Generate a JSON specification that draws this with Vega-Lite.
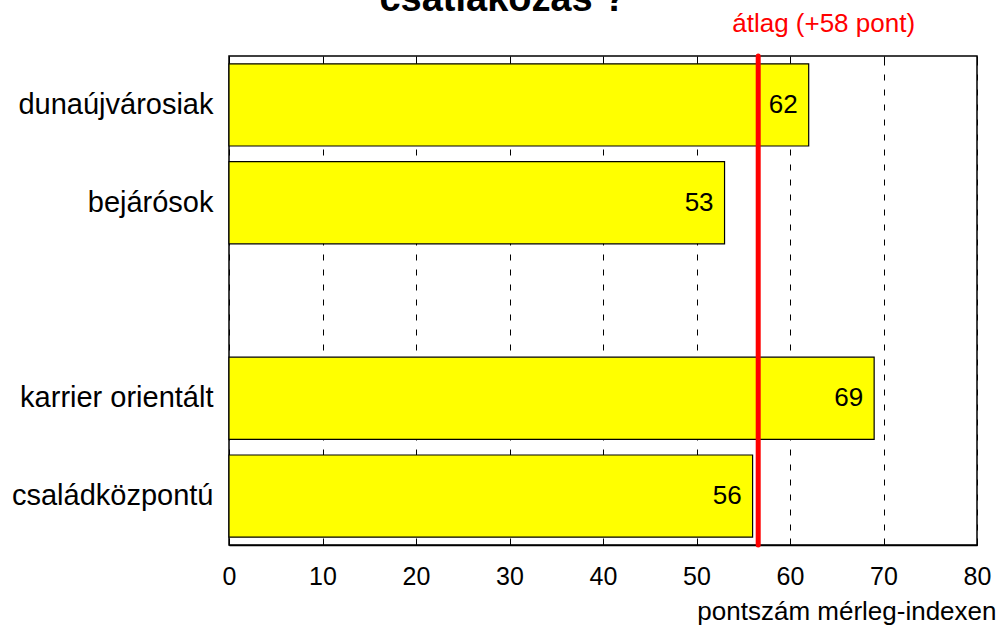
{
  "$schema": "https://vega.github.io/schema/vega-lite/v6.json",
  "width": 748,
  "height": 489,
  "autosize": {"type": "none"},
  "padding": {"left": 229, "top": 56, "right": 20, "bottom": 85},
  "datasets": {
    "bars": [
      {"group": "dunaújvárosiak", "value": 62},
      {"group": "bejárósok", "value": 53},
      {"group": "karrier orientált", "value": 69},
      {"group": "családközpontú", "value": 56}
    ],
    "avg": [
      {"avg": 56.6, "label": "átlag (+58 pont)", "group": "dunaújvárosiak"}
    ],
    "heading": [
      {"x": 29.3, "group": "dunaújvárosiak", "text": "csatlakozás ?"}
    ]
  },
  "config": {
    "font": "Liberation Sans",
    "view": {"stroke": "black", "strokeWidth": 1.5}
  },
  "resolve": {"axis": {"x": "independent"}},
  "layer": [
    {
      "data": {"name": "bars"},
      "mark": {"type": "bar", "fill": "#FFFF00", "stroke": "black", "strokeWidth": 1.2},
      "encoding": {
        "y": {
          "field": "group",
          "type": "nominal",
          "scale": {
            "domain": ["dunaújvárosiak", "bejárósok", " ", "karrier orientált", "családközpontú"],
            "paddingInner": 0.16,
            "paddingOuter": 0.08
          },
          "axis": {
            "title": null,
            "ticks": false,
            "domain": false,
            "labelFontSize": 29,
            "labelColor": "black",
            "labelPadding": 16,
            "labelLimit": 400,
            "labelFont": "Liberation Sans"
          }
        },
        "x": {
          "field": "value",
          "type": "quantitative",
          "scale": {"domain": [0, 80], "nice": false},
          "axis": {
            "orient": "bottom",
            "values": [0, 10, 20, 30, 40, 50, 60, 70, 80],
            "title": "pontszám mérleg-indexen",
            "titleFontSize": 26,
            "titleFontWeight": "normal",
            "titleColor": "black",
            "titleAnchor": "end",
            "titleAlign": "right",
            "titleX": 767,
            "titleY": 74,
            "titleBaseline": "alphabetic",
            "labelFontSize": 25,
            "labelColor": "black",
            "labelPadding": 26,
            "labelFlush": false,
            "tickSize": -7,
            "tickColor": "black",
            "domainColor": "black",
            "domainWidth": 1.5,
            "grid": true,
            "gridColor": "black",
            "gridDash": [6, 9],
            "gridWidth": 1,
            "gridOpacity": 1
          }
        }
      }
    },
    {
      "data": {"name": "avg"},
      "mark": {"type": "rule", "color": "red", "strokeWidth": 5, "strokeCap": "round"},
      "encoding": {
        "x": {
          "field": "avg",
          "type": "quantitative",
          "axis": {
            "orient": "top",
            "values": [0, 10, 20, 30, 40, 50, 60, 70, 80],
            "labels": false,
            "title": null,
            "grid": false,
            "domain": false,
            "tickSize": -5,
            "tickColor": "black"
          }
        }
      }
    },
    {
      "data": {"name": "bars"},
      "mark": {"type": "text", "align": "right", "baseline": "middle", "dx": -11, "fontSize": 26, "color": "black"},
      "encoding": {
        "y": {"field": "group", "type": "nominal"},
        "x": {"field": "value", "type": "quantitative", "axis": null},
        "text": {"field": "value"}
      }
    },
    {
      "data": {"name": "avg"},
      "mark": {"type": "text", "align": "left", "baseline": "alphabetic", "dx": -26, "dy": -32, "fontSize": 26, "color": "red"},
      "encoding": {
        "x": {"field": "avg", "type": "quantitative", "axis": null},
        "y": {"field": "group", "type": "nominal", "bandPosition": 0},
        "text": {"field": "label"}
      }
    },
    {
      "data": {"name": "heading"},
      "mark": {"type": "text", "align": "center", "baseline": "alphabetic", "dy": -53, "fontSize": 38, "fontWeight": "bold", "color": "black"},
      "encoding": {
        "x": {"field": "x", "type": "quantitative", "axis": null},
        "y": {"field": "group", "type": "nominal", "bandPosition": 0},
        "text": {"field": "text"}
      }
    }
  ]
}
